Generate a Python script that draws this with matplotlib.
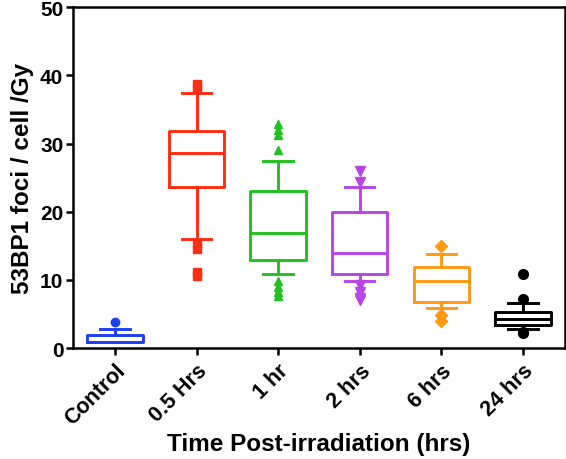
import matplotlib
matplotlib.use('Agg')
import matplotlib.pyplot as plt

plt.rcParams['font.family'] = ['Liberation Sans', 'DejaVu Sans']
plt.rcParams['font.weight'] = 'bold'

# box summary values
groups = ['Control', '0.5 Hrs', '1 hr', '2 hrs', '6 hrs', '24 hrs']
q1 = [0.85, 23.6, 12.9, 10.9, 6.7, 3.4]
med = [0.85, 28.6, 16.9, 13.9, 9.9, 4.3]
q3 = [1.9, 31.8, 23.0, 19.9, 11.9, 5.3]
whislo = [0.85, 16.0, 10.9, 9.9, 5.9, 2.8]
whishi = [2.8, 37.4, 27.5, 23.6, 13.8, 6.6]
outliers = [
    [3.8],
    [38.8, 38.2, 15.3, 14.6, 11.2, 10.6],
    [32.9, 32.0, 31.2, 29.0, 9.9, 8.9, 8.2, 7.6],
    [26.0, 24.3, 9.2, 8.2, 7.4, 7.0],
    [15.0, 4.9, 4.0],
    [10.9, 7.2, 2.3, 2.2],
]

colors = ['#1f3ff2', '#ff2d12', '#1fc21f', '#b845e6', '#ff9a12', '#000000']
markers = ['o', 's', '^', 'v', 'D', 'o']
msizes = [6, 6, 6, 7, 6, 7]

fig = plt.figure(figsize=(5.66, 4.6), dpi=100)
ax = fig.add_axes([0.129, 0.241, 0.869, 0.741])

for i in range(len(groups)):
    st = [dict(med=med[i], q1=q1[i], q3=q3[i], whislo=whislo[i],
               whishi=whishi[i], fliers=outliers[i])]
    c = colors[i]
    ax.bxp(st, positions=[i], widths=0.68, showfliers=True,
           boxprops=dict(color=c, linewidth=2.1),
           medianprops=dict(color=c, linewidth=2.1),
           whiskerprops=dict(color=c, linewidth=2.1),
           capprops=dict(color=c, linewidth=2.1),
           capwidths=0.36,
           flierprops=dict(marker=markers[i], markerfacecolor=c,
                           markeredgecolor=c, markersize=msizes[i],
                           linestyle='none'))

ax.set_xlim(-0.515, 5.515)
ax.set_ylim(0, 50)
ax.set_yticks([0, 10, 20, 30, 40, 50])
ax.set_xticks(range(len(groups)))
ax.set_xticklabels(groups, rotation=45, ha='right', rotation_mode='anchor',
                   fontsize=15.5, fontweight='bold')
ax.tick_params(axis='y', labelsize=15, width=1.8, length=5, pad=2)
ax.tick_params(axis='x', width=1.8, length=5)
for lab in ax.get_yticklabels():
    lab.set_fontweight('bold')

for s in ax.spines.values():
    s.set_linewidth(1.8)

ax.set_xlabel('Time Post-irradiation (hrs)', fontsize=17.5, fontweight='bold',
              labelpad=2)
ax.set_ylabel('53BP1 foci / cell /Gy', fontsize=17.5, fontweight='bold',
              labelpad=4)

fig.savefig('out.png', dpi=100)
